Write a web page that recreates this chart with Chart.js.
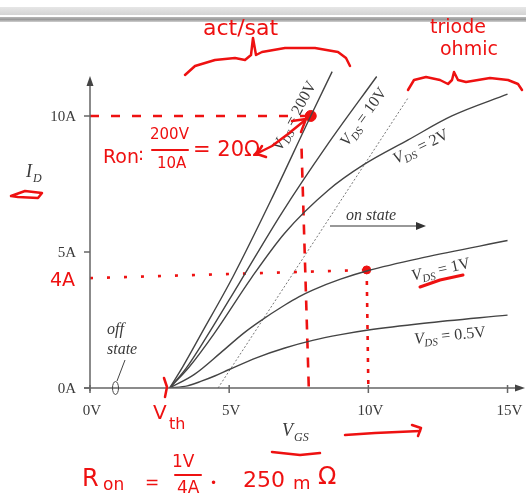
<!DOCTYPE html>
<html>
<head>
<meta charset="utf-8">
<script src="https://cdn.jsdelivr.net/npm/chart.js@4/dist/chart.umd.min.js"></script>
<style>
  html, body { margin: 0; padding: 0; background: #fff; }
  #wrap { position: relative; width: 526px; height: 501px; }
  #bar1 { position: absolute; left: 0; top: 7px; width: 526px; height: 8px; background: linear-gradient(#e6e6e6, #d4d4d4); }
  #bar2 { position: absolute; left: 0; top: 17px; width: 526px; height: 5px; background: linear-gradient(#b8b8b8, #9a9a9a, #d0d0d0); }
  canvas { position: absolute; left: 0; top: 0; }
</style>
</head>
<body>
<div id="wrap">
  <div id="bar1"></div>
  <div id="bar2"></div>
  <canvas id="chart" width="526" height="501"></canvas>
</div>
<script>
// tick labels
const xTicks = [0, 5, 10, 15];
const xTickLabels = ['0V', '5V', '10V', '15V'];
const yTicks = [0, 5, 10];
const yTickLabels = ['0A', '5A', '10A'];

// I_D (A) against V_GS (V), one list per V_DS
const vgs200 = [2.86, 3.33, 4.0, 5.14, 6.5, 7.93, 8.7];
const id200  = [0, 0.78, 2.0, 4.1, 6.9, 10.0, 11.63];

const vgs10 = [2.86, 3.45, 4.17, 5.36, 6.9, 8.5, 10.3];
const id10  = [0, 0.72, 1.85, 3.85, 6.45, 8.9, 11.45];

const vgs2 = [2.86, 3.57, 4.46, 5.8, 7.0, 8.57, 9.82, 11.43, 13.0, 15.0];
const id2  = [0, 0.78, 2.0, 4.05, 5.7, 7.28, 8.2, 9.12, 10.0, 10.8];

const vgs1 = [2.86, 3.75, 4.7, 5.5, 6.1, 7.0, 7.5, 8.0, 9.0, 10.0, 12.0, 15.0];
const id1  = [0, 0.5, 1.3, 2.0, 2.45, 3.05, 3.35, 3.6, 4.0, 4.32, 4.8, 5.42];

const vgs05 = [2.86, 3.5, 4.0, 4.5, 5.0, 6.0, 7.0, 8.0, 9.0, 10.0, 12.0, 15.0];
const id05  = [0, 0.08, 0.25, 0.45, 0.68, 1.12, 1.47, 1.75, 1.96, 2.13, 2.38, 2.68];

// boundary between saturation and triode (dotted)
const vgsEdge = [4.6, 11.45];
const idEdge  = [0, 10.7];

// hand-drawn red marks
const redH10x = [0, 7.93];   const redH10y = [10, 10];
const redV8x  = [7.6, 7.86]; const redV8y  = [8.8, 0];
const redH4x  = [0, 9.94];   const redH4y  = [4.04, 4.34];
const redV10x = [9.94, 10.0]; const redV10y = [4.34, 0];
const redDotX = [7.93, 9.94]; const redDotY = [10, 4.34];

const RED = '#ee1111';
const INK = '#3a3a3a';
const SERIF = '"Liberation Serif", "DejaVu Serif", serif';
const HAND = '"DejaVu Sans", sans-serif';

function pts(xs, ys) {
    return xs.map((x, i) => ({ x: x, y: ys[i] }));
}

function curve(xs, ys) {
    return {
        data: pts(xs, ys), borderColor: '#444', borderWidth: 1.4,
        pointRadius: 0, cubicInterpolationMode: 'monotone', fill: false
    };
}

function redLine(xs, ys, dash) {
    return {
        data: pts(xs, ys), borderColor: RED, borderWidth: 2.6,
        borderDash: dash, pointRadius: 0, fill: false
    };
}

// V_DS = ... label, centred, rotated
function vdsLabel(ctx, x, y, deg, value) {
    ctx.save();
    ctx.translate(x, y);
    ctx.rotate(deg * Math.PI / 180);
    ctx.fillStyle = INK;
    ctx.textBaseline = 'middle';
    ctx.font = 'italic 16px ' + SERIF;
    const wV = ctx.measureText('V').width;
    ctx.font = 'italic 11px ' + SERIF;
    const wS = ctx.measureText('DS').width;
    ctx.font = '16px ' + SERIF;
    const rest = ' = ' + value;
    const wR = ctx.measureText(rest).width;
    let sx = -(wV + wS + wR) / 2;
    ctx.font = 'italic 16px ' + SERIF;
    ctx.fillText('V', sx, 0);
    ctx.font = 'italic 11px ' + SERIF;
    ctx.fillText('DS', sx + wV, 5);
    ctx.font = '16px ' + SERIF;
    ctx.fillText(rest, sx + wV + wS, 0);
    ctx.restore();
}

function redText(ctx, txt, x, y, size) {
    ctx.font = size + 'px ' + HAND;
    ctx.fillStyle = RED;
    ctx.fillText(txt, x, y);
}

function redPath(ctx, points, w) {
    ctx.beginPath();
    ctx.moveTo(points[0][0], points[0][1]);
    for (let i = 1; i < points.length; i++) ctx.lineTo(points[i][0], points[i][1]);
    ctx.strokeStyle = RED;
    ctx.lineWidth = w || 2.5;
    ctx.lineJoin = 'round';
    ctx.lineCap = 'round';
    ctx.stroke();
}

const drawing = {
    id: 'drawing',
    afterDatasetsDraw(chart) {
        const ctx = chart.ctx;
        const xs = chart.scales.x, ys = chart.scales.y;
        const x0 = xs.getPixelForValue(0), y0 = ys.getPixelForValue(0);
        ctx.save();

        // axes with arrows
        ctx.strokeStyle = '#666';
        ctx.fillStyle = '#444';
        ctx.lineWidth = 1.5;
        ctx.beginPath();
        ctx.moveTo(x0, y0 + 3); ctx.lineTo(x0, 84);
        ctx.moveTo(x0 - 6, y0); ctx.lineTo(518, y0);
        ctx.stroke();
        ctx.beginPath();
        ctx.moveTo(x0, 76); ctx.lineTo(x0 - 3.5, 86); ctx.lineTo(x0 + 3.5, 86); ctx.closePath(); ctx.fill();
        ctx.beginPath();
        ctx.moveTo(525, y0); ctx.lineTo(515, y0 - 3.5); ctx.lineTo(515, y0 + 3.5); ctx.closePath(); ctx.fill();

        // ticks and tick labels
        ctx.font = '15px ' + SERIF;
        ctx.fillStyle = INK;
        ctx.textBaseline = 'middle';
        ctx.beginPath();
        xTicks.forEach((v, i) => {
            const px = xs.getPixelForValue(v);
            ctx.moveTo(px, y0 - 3); ctx.lineTo(px, y0 + 5);
            ctx.textAlign = 'center';
            ctx.fillText(xTickLabels[i], px + 2, 411);
        });
        yTicks.forEach((v, i) => {
            const py = ys.getPixelForValue(v);
            ctx.moveTo(x0 - 6, py); ctx.lineTo(x0, py);
            ctx.textAlign = 'right';
            ctx.fillText(yTickLabels[i], 76, py + 1);
        });
        ctx.stroke();

        // axis titles
        ctx.textAlign = 'left';
        ctx.font = 'italic 18px ' + SERIF;
        ctx.fillText('I', 26, 172);
        ctx.font = 'italic 12px ' + SERIF;
        ctx.fillText('D', 33, 179);
        ctx.font = 'italic 18px ' + SERIF;
        ctx.fillText('V', 282, 431);
        ctx.font = 'italic 12px ' + SERIF;
        ctx.fillText('GS', 294, 438);

        // curve labels
        vdsLabel(ctx, 295, 116, -62, '200V');
        vdsLabel(ctx, 364, 117, -54, '10V');
        vdsLabel(ctx, 421, 147, -26, '2V');
        vdsLabel(ctx, 441, 270, -13, '1V');
        vdsLabel(ctx, 450, 336, -6, '0.5V');

        // on state
        ctx.font = 'italic 16px ' + SERIF;
        ctx.fillStyle = INK;
        ctx.textAlign = 'left';
        ctx.fillText('on state', 346, 216);
        ctx.strokeStyle = '#333';
        ctx.lineWidth = 1.2;
        ctx.beginPath(); ctx.moveTo(330, 226); ctx.lineTo(418, 226); ctx.stroke();
        ctx.beginPath(); ctx.moveTo(426, 226); ctx.lineTo(416, 222); ctx.lineTo(416, 230); ctx.closePath();
        ctx.fillStyle = '#333'; ctx.fill();

        // off state
        ctx.fillStyle = INK;
        ctx.font = 'italic 16px ' + SERIF;
        ctx.fillText('off', 107, 330);
        ctx.fillText('state', 107, 350);
        ctx.strokeStyle = '#444';
        ctx.lineWidth = 1;
        ctx.beginPath(); ctx.moveTo(125, 360); ctx.lineTo(117, 381); ctx.stroke();
        ctx.beginPath(); ctx.ellipse(115.5, 388, 3, 6.5, 0, 0, Math.PI * 2); ctx.stroke();

        // red handwriting
        ctx.textAlign = 'left';
        ctx.textBaseline = 'middle';
        redText(ctx, 'act/sat', 203, 29, 22);
        redPath(ctx, [[185, 75], [195, 66], [215, 60], [235, 58], [245, 60], [251, 55], [253, 38], [256, 55], [262, 52], [285, 48], [315, 48], [338, 52], [346, 58], [350, 66]]);
        redText(ctx, 'triode', 430, 28, 19);
        redText(ctx, 'ohmic', 440, 50, 19);
        redPath(ctx, [[408, 90], [414, 80], [426, 77], [440, 80], [448, 84], [452, 80], [454, 72], [458, 80], [466, 82], [490, 78], [508, 80], [518, 84], [522, 90]]);

        redText(ctx, 'Ron', 103, 158, 19);
        redText(ctx, ':', 138, 155, 18);
        redText(ctx, '200V', 150, 135, 15);
        redPath(ctx, [[152, 150], [188, 150]], 2);
        redText(ctx, '10A', 157, 164, 15);
        redText(ctx, '= 20Ω', 193, 151, 21);
        redPath(ctx, [[258, 153], [272, 146], [288, 134], [304, 121]], 2.5);
        redPath(ctx, [[292, 121], [306, 119], [301, 132]], 2.5);
        redPath(ctx, [[262, 146], [257, 154], [266, 157]], 2.5);

        redText(ctx, '4A', 50, 281, 19);
        redText(ctx, 'V', 153, 414, 20);
        redText(ctx, 'th', 169, 425, 16);
        redPath(ctx, [[164, 378], [167, 387], [165, 397]], 2.5);
        redPath(ctx, [[272, 452], [300, 455], [320, 453]], 2.5);
        redPath(ctx, [[345, 435], [375, 433], [420, 431]], 2.5);
        redPath(ctx, [[412, 425], [421, 428], [418, 436]], 2.5);
        redPath(ctx, [[420, 287], [440, 280], [463, 275]], 3);
        redPath(ctx, [[11, 196], [25, 191], [42, 193], [38, 198], [18, 197], [11, 196]], 2.5);

        redText(ctx, 'R', 82, 480, 24);
        redText(ctx, 'on', 103, 486, 17);
        redText(ctx, '=', 145, 484, 17);
        redText(ctx, '1V', 172, 463, 17);
        redPath(ctx, [[175, 475], [201, 475]], 2);
        redText(ctx, '4A', 177, 489, 17);
        redText(ctx, '•', 210, 484, 12);
        redText(ctx, '250', 243, 481, 22);
        redText(ctx, 'm', 293, 484, 18);
        redText(ctx, 'Ω', 318, 478, 24);

        ctx.restore();
    }
};

new Chart(document.getElementById('chart'), {
    type: 'line',
    data: {
        datasets: [
            curve(vgs200, id200),
            curve(vgs10, id10),
            curve(vgs2, id2),
            curve(vgs1, id1),
            curve(vgs05, id05),
            {
                data: pts(vgsEdge, idEdge), borderColor: '#777', borderWidth: 1,
                borderDash: [2, 2], pointRadius: 0, fill: false
            },
            redLine(redH10x, redH10y, [9, 12]),
            redLine(redV8x, redV8y, [10, 9]),
            redLine(redH4x, redH4y, [3, 14]),
            redLine(redV10x, redV10y, [4, 7]),
            {
                data: pts(redDotX, redDotY), showLine: false, pointRadius: [5.5, 4],
                pointBackgroundColor: RED, pointBorderColor: RED
            }
        ]
    },
    options: {
        responsive: false,
        animation: false,
        layout: { padding: { left: 90, right: 4, top: 67, bottom: 113 } },
        scales: {
            x: { type: 'linear', min: 0, max: 15.43, display: false },
            y: { type: 'linear', min: 0, max: 11.8, display: false }
        },
        plugins: { legend: { display: false }, tooltip: { enabled: false } }
    },
    plugins: [drawing]
});
</script>
</body>
</html>
